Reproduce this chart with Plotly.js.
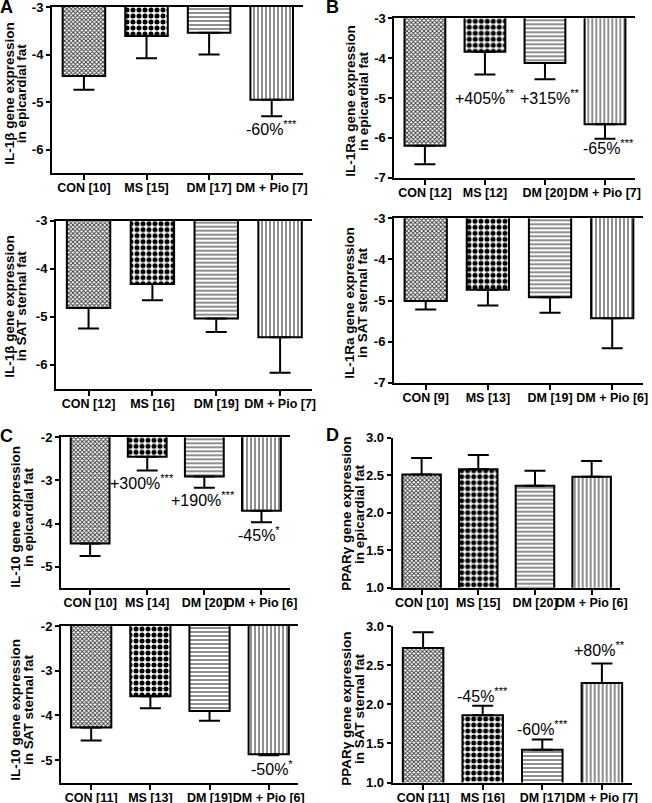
<!DOCTYPE html>
<html>
<head>
<meta charset="utf-8">
<script src="https://cdn.plot.ly/plotly-3.0.1.min.js"></script>
<style>
  html, body { margin: 0; padding: 0; background: #fff; }
  #fig { width: 652px; height: 803px; }
</style>
</head>
<body>
<div id="fig"></div>
<script>
// groups shown on every panel
const groups = ["CON", "MS", "DM", "DM + Pio"];

// A: IL-1beta
const il1bEpiMean = [-4.45, -3.61, -3.54, -4.95];
const il1bEpiSem  = [0.29, 0.47, 0.46, 0.35];
const il1bEpiN    = [10, 15, 17, 7];
const il1bSatMean = [-4.82, -4.32, -5.04, -5.43];
const il1bSatSem  = [0.43, 0.34, 0.28, 0.74];
const il1bSatN    = [12, 16, 19, 7];

// B: IL-1Ra
const il1raEpiMean = [-6.20, -3.84, -4.12, -5.66];
const il1raEpiSem  = [0.46, 0.57, 0.41, 0.36];
const il1raEpiN    = [12, 12, 20, 7];
const il1raSatMean = [-5.01, -4.74, -4.92, -5.43];
const il1raSatSem  = [0.21, 0.38, 0.38, 0.73];
const il1raSatN    = [9, 13, 19, 6];

// C: IL-10
const il10EpiMean = [-4.46, -2.45, -2.91, -3.70];
const il10EpiSem  = [0.29, 0.32, 0.26, 0.27];
const il10EpiN    = [10, 14, 20, 6];
const il10SatMean = [-4.27, -3.57, -3.90, -4.87];
const il10SatSem  = [0.29, 0.27, 0.22, 0.02];
const il10SatN    = [11, 13, 19, 6];

// D: PPARgamma
const pparEpiMean = [2.51, 2.58, 2.36, 2.48];
const pparEpiSem  = [0.22, 0.19, 0.20, 0.21];
const pparEpiN    = [10, 15, 20, 6];
const pparSatMean = [2.72, 1.86, 1.42, 2.27];
const pparSatSem  = [0.20, 0.12, 0.13, 0.25];
const pparSatN    = [11, 16, 17, 7];

// y ticks
const ticksIL1b = [-3, -4, -5, -6];
const ticksIL1ra = [-3, -4, -5, -6, -7];
const ticksIL10 = [-2, -3, -4, -5];
const ticksPPAR = [1.0, 1.5, 2.0, 2.5, 3.0];

// significance labels: [group index, text, y]
const il1bEpiSig = [[3, "-60%<sup>***</sup>", -5.55]];
const il1raEpiSig = [[1, "+405%<sup>**</sup>", -4.97], [2, "+315%<sup>**</sup>", -4.97], [3, "-65%<sup>***</sup>", -6.23]];
const il10EpiSig = [[1, "+300%<sup>***</sup>", -3.03], [2, "+190%<sup>***</sup>", -3.44], [3, "-45%<sup>*</sup>", -4.23]];
const il10SatSig = [[3, "-50%<sup>*</sup>", -5.18]];
const pparSatSig = [[1, "-45%<sup>***</sup>", 2.12], [2, "-60%<sup>***</sup>", 1.70], [3, "+80%<sup>**</sup>", 2.70]];

const W = 652, H = 803;
const FONT = "Liberation Sans, Arial, sans-serif";

// box = [left, right, top, bottom] in px; sigDx = small x nudges of labels
const panels = [
  { mean: il1bEpiMean, sem: il1bEpiSem, n: il1bEpiN, range: [-6.5, -3], ticks: ticksIL1b, fmt: 0, up: false,
    box: [52, 303, 7, 173.3], title: ["IL-1β gene expression", "in epicardial fat"], tx: [8.7, 21.3], ty: 93,
    sig: il1bEpiSig, sigDx: [0] },
  { mean: il1bSatMean, sem: il1bSatSem, n: il1bSatN, range: [-6.5, -3], ticks: ticksIL1b, fmt: 0, up: false,
    box: [56, 312, 220.7, 388.5], title: ["IL-1β gene expression", "in SAT sternal fat"], tx: [8.7, 21.3], ty: 306,
    sig: [], sigDx: [] },
  { mean: il1raEpiMean, sem: il1raEpiSem, n: il1raEpiN, range: [-7, -3], ticks: ticksIL1ra, fmt: 0, up: false,
    box: [394.3, 635, 18.3, 177.7], title: ["IL-1Ra gene expression", "in epicardial fat"], tx: [349.7, 363], ty: 101,
    sig: il1raEpiSig, sigDx: [0, 5, 4] },
  { mean: il1raSatMean, sem: il1raSatSem, n: il1raSatN, range: [-7, -3], ticks: ticksIL1ra, fmt: 0, up: false,
    box: [394, 643.3, 218.3, 382.7], title: ["IL-1Ra gene expression", "in SAT sternal fat"], tx: [349.7, 363], ty: 303,
    sig: [], sigDx: [] },
  { mean: il10EpiMean, sem: il10EpiSem, n: il10EpiN, range: [-5.5, -2], ticks: ticksIL10, fmt: 0, up: false,
    box: [61, 290, 437.3, 588.3], title: ["IL-10 gene expression", "in epicardial fat"], tx: [14.7, 28], ty: 517,
    sig: il10EpiSig, sigDx: [-5, -1, -2] },
  { mean: il10SatMean, sem: il10SatSem, n: il10SatN, range: [-5.5, -2], ticks: ticksIL10, fmt: 0, up: false,
    box: [61, 298.3, 626, 782.5], title: ["IL-10 gene expression", "in SAT sternal fat"], tx: [14.7, 28], ty: 710,
    sig: il10SatSig, sigDx: [3] },
  { mean: pparEpiMean, sem: pparEpiSem, n: pparEpiN, range: [1, 3], ticks: ticksPPAR, fmt: 1, up: true,
    box: [392.7, 620, 437.7, 587.7], title: ["PPARγ gene expression", "in epicardial fat"], tx: [345.7, 359], ty: 514,
    sig: [], sigDx: [] },
  { mean: pparSatMean, sem: pparSatSem, n: pparSatN, range: [1, 3], ticks: ticksPPAR, fmt: 1, up: true,
    box: [392.7, 631.7, 626, 782.5], title: ["PPARγ gene expression", "in SAT sternal fat"], tx: [345.7, 359], ty: 709,
    sig: pparSatSig, sigDx: [0, 0, -2] }
];

// fill pattern for each group (CON, MS, DM, DM + Pio)
const pattern = {
  shape: ["x", ".", "-", "|"],
  size: [3, 6, 4, 4],
  solidity: [0.5, 0.55, 0.3, 0.3],
  fgcolor: ["#333", "#000", "#444", "#444"],
  bgcolor: ["#fff", "#fff", "#fff", "#fff"]
};

const letters = [["A", 6.5, 6.5], ["B", 332.5, 6.5], ["C", 6.5, 436.5], ["D", 332.5, 435]];

const px = v => v / W;
const py = v => 1 - v / H;

const traces = [];
const layout = {
  width: W, height: H,
  margin: { l: 0, r: 0, t: 0, b: 0 },
  paper_bgcolor: "#fff",
  plot_bgcolor: "#fff",
  showlegend: false,
  font: { family: FONT, color: "#000" },
  annotations: []
};

panels.forEach((p, i) => {
  const k = i === 0 ? "" : String(i + 1);
  const labels = p.n.map((v, j) => groups[j] + " [" + v + "]");
  const zeros = p.sem.map(() => 0);

  traces.push({
    type: "bar",
    x: labels,
    y: p.mean,
    xaxis: "x" + k,
    yaxis: "y" + k,
    width: 0.68,
    marker: { color: "#fff", line: { color: "#000", width: 2 }, pattern: pattern },
    error_y: {
      type: "data", symmetric: false,
      array: p.up ? p.sem : zeros,
      arrayminus: p.up ? zeros : p.sem,
      color: "#000", thickness: 2, width: 10.5
    },
    hoverinfo: "skip"
  });

  const [x0, x1, y0, y1] = p.box;
  layout["xaxis" + k] = {
    domain: [px(x0), px(x1)],
    anchor: "y" + k,
    type: "category",
    range: [-0.51, 3.5],
    showline: true, linewidth: 2, linecolor: "#000",
    mirror: !p.up,
    ticks: "outside", ticklen: 5, tickwidth: 2, tickcolor: "#000",
    tickangle: 0, ticklabeloverflow: "allow", ticklabelstandoff: -3,
    tickfont: { family: FONT, size: 12.5, weight: "bold", color: "#000" },
    showgrid: false, zeroline: false, fixedrange: true
  };
  layout["yaxis" + k] = {
    domain: [py(y1), py(y0)],
    anchor: "x" + k,
    range: p.range,
    tickvals: p.ticks,
    ticktext: p.ticks.map(v => v.toFixed(p.fmt)),
    showline: true, linewidth: 2, linecolor: "#000",
    ticks: "outside", ticklen: 4, tickwidth: 2, tickcolor: "#000",
    ticklabeloverflow: "allow",
    tickfont: { family: FONT, size: 13, weight: "bold", color: "#000" },
    showgrid: false, zeroline: false, fixedrange: true
  };

  // two-line y title, drawn as two annotations for tight line spacing
  p.title.forEach((t, j) => {
    layout.annotations.push({
      xref: "paper", yref: "paper",
      x: px(p.tx[j]), y: py(p.ty),
      xanchor: "center", yanchor: "middle",
      text: t, textangle: -90, showarrow: false,
      font: { family: FONT, size: 13.5, weight: "bold", color: "#000" }
    });
  });

  p.sig.forEach(([g, t, yv], j) => {
    layout.annotations.push({
      xref: "x" + k, yref: "y" + k,
      x: labels[g], y: yv,
      xanchor: "center", yanchor: "middle",
      xshift: p.sigDx[j] || 0,
      text: t, showarrow: false,
      font: { family: FONT, size: 16, color: "#000" }
    });
  });
});

letters.forEach(([t, x, y]) => {
  layout.annotations.push({
    xref: "paper", yref: "paper",
    x: px(x), y: py(y),
    xanchor: "center", yanchor: "middle",
    text: t, showarrow: false,
    font: { family: FONT, size: 18, weight: "bold", color: "#000" }
  });
});

Plotly.newPlot("fig", traces, layout, { staticPlot: true });
</script>
</body>
</html>
